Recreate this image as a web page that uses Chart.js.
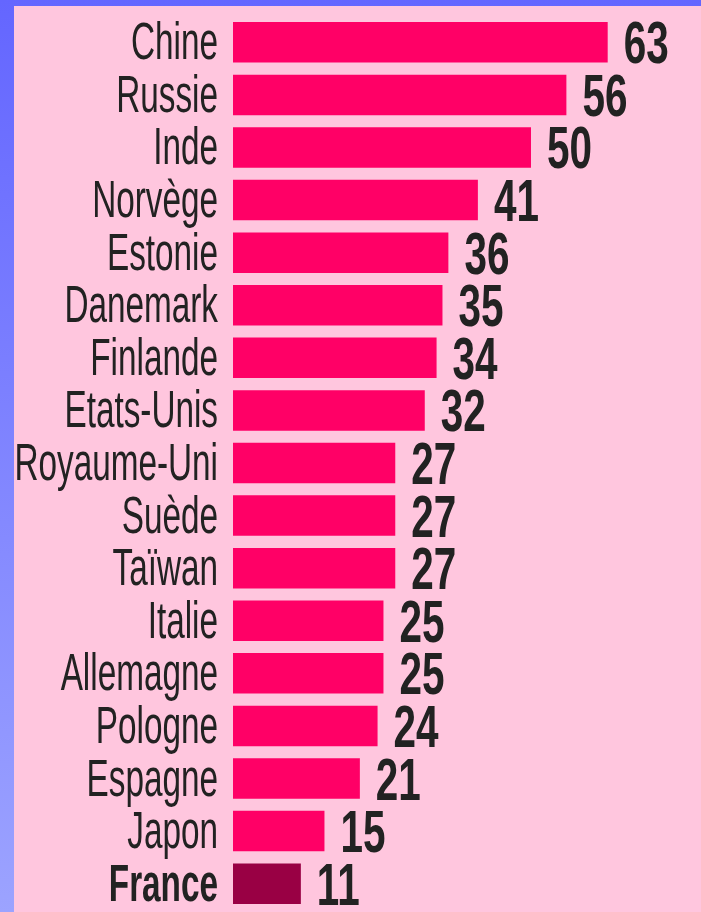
<!DOCTYPE html>
<html>
<head>
<meta charset="utf-8">
<script src="https://cdn.jsdelivr.net/npm/chart.js@4/dist/chart.umd.min.js"></script>
<style>
    html, body { margin: 0; padding: 0; }
    body {
        width: 701px; height: 912px; overflow: hidden;
        background: linear-gradient(to bottom, #6466ff, #9ca3ff);
    }
    #panel {
        position: absolute; left: 14px; top: 6px;
        width: 687px; height: 906px;
        background: #ffc6de;
    }
</style>
</head>
<body>
<div id="panel"><canvas id="chart" width="687" height="906"></canvas></div>
<script>
(function () {
    const countries = ["Chine", "Russie", "Inde", "Norvège", "Estonie", "Danemark", "Finlande",
        "Etats-Unis", "Royaume-Uni", "Suède", "Taïwan", "Italie", "Allemagne", "Pologne",
        "Espagne", "Japon", "France"];
    const values = [63, 56, 50, 41, 36, 35, 34, 32, 27, 27, 27, 25, 25, 24, 21, 15, 11];
    const highlight = "France";

    const barColor = "#ff0066";
    const highlightColor = "#990044";
    const textColor = "#222222";
    const fontFamily = '"Liberation Sans Narrow", "Liberation Sans", sans-serif';

    // draws the condensed country names and the value labels
    const condensedLabels = {
        id: 'condensedLabels',
        afterDatasetsDraw(chart) {
            const ctx = chart.ctx;
            const yScale = chart.scales.y;
            const xScale = chart.scales.x;
            const left = chart.chartArea.left;
            ctx.save();
            ctx.fillStyle = textColor;

            // country names, right aligned next to the bars
            ctx.font = '51px ' + fontFamily;
            const nameScale = 87 / ctx.measureText("Chine").width;
            countries.forEach((name, i) => {
                const y = yScale.getPixelForValue(i);
                ctx.font = (name === highlight ? 'bold ' : '') + '51px ' + fontFamily;
                ctx.save();
                ctx.translate(left - 15, y + 17);
                ctx.scale(nameScale, 1);
                ctx.textAlign = 'right';
                ctx.fillText(name, 0, 0);
                ctx.restore();
            });

            // values at the end of each bar
            ctx.font = 'bold 59px ' + fontFamily;
            const numScale = 45 / ctx.measureText("63").width;
            values.forEach((v, i) => {
                const y = yScale.getPixelForValue(i);
                const x = xScale.getPixelForValue(v);
                ctx.save();
                ctx.translate(x + 16, y + 21);
                ctx.scale(numScale, 1);
                ctx.textAlign = 'left';
                ctx.fillText(String(v), 0, 0);
                ctx.restore();
            });
            ctx.restore();
        }
    };

    new Chart(document.getElementById('chart'), {
        type: 'bar',
        data: {
            labels: countries,
            datasets: [{
                data: values,
                base: -0.5,
                backgroundColor: countries.map(c => c === highlight ? highlightColor : barColor),
                borderWidth: 0,
                categoryPercentage: 1.0,
                barPercentage: 0.77,
            }]
        },
        options: {
            indexAxis: 'y',
            responsive: false,
            animation: false,
            layout: {
                padding: { left: 219, right: 52, top: 10, bottom: 2 }
            },
            scales: {
                x: { min: -0.5, max: 70, display: false },
                y: { display: false }
            },
            plugins: {
                legend: { display: false },
                tooltip: { enabled: false },
            },
        },
        plugins: [condensedLabels],
    });
})();
</script>
</body>
</html>
